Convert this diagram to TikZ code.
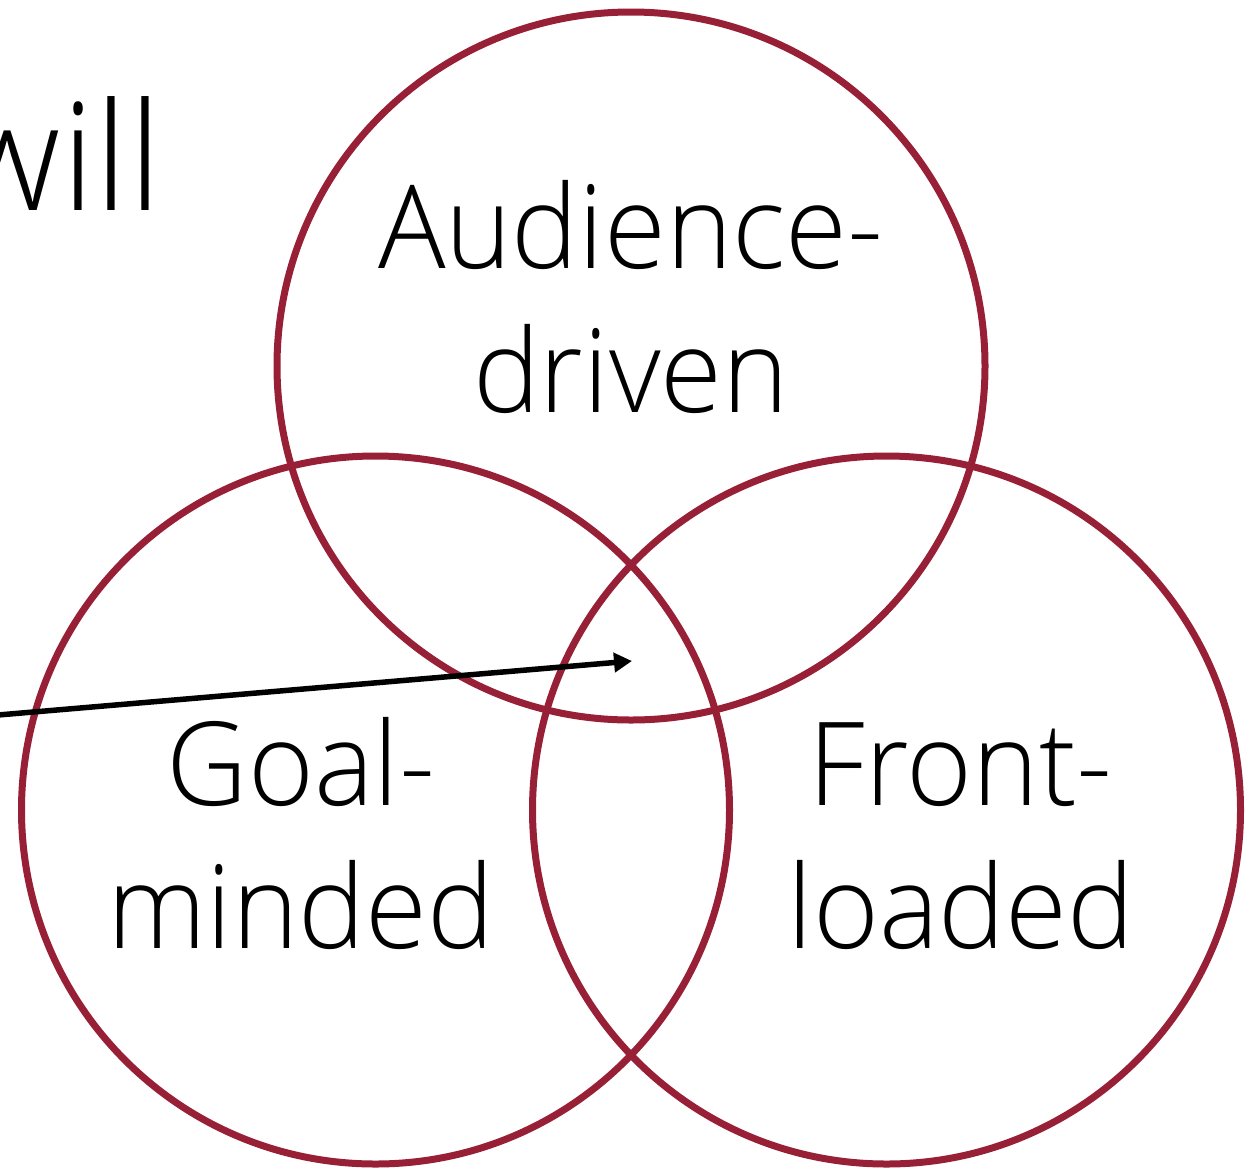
\documentclass[tikz,border=0pt]{standalone}
\usepackage{fontspec}
\setmainfont{Open Sans}[UprightFont=* Light]
\usetikzlibrary{arrows.meta}
\definecolor{ring}{RGB}{152,32,54}
\newcommand{\sq}[1]{\scalebox{0.97}[1]{#1}}
\begin{document}
\begin{tikzpicture}[x=1pt,y=-1pt,
  ringstyle/.style={draw=ring, line width=7pt, circle, minimum size=708pt, inner sep=0pt},
  lbl/.style={anchor=base, inner sep=0pt, font=\fontsize{116}{140}\selectfont},
  pointer/.style={line width=5.5pt, -{Triangle[length=18pt,width=19pt]}}]
\useasboundingbox (0,0) rectangle (1258,1168);
\node[ringstyle] (top) at (631,366) {};
\node[ringstyle] (left) at (375.5,810) {};
\node[ringstyle] (right) at (886.5,810) {};
\node[lbl] (a1) at (631,268) {\sq{Audience-}};
\node[lbl] (a2) at (631,412) {\sq{driven}};
\node[lbl] (g1) at (301,805) {\sq{Goal-}};
\node[lbl] (g2) at (301,948) {\sq{minded}};
\node[lbl] (f1) at (961,805) {\sq{Front-}};
\node[lbl] (f2) at (961,948) {\sq{loaded}};
\node[anchor=base east, inner sep=0pt, font=\fontsize{150}{180}\selectfont] (will) at (163,210) {will};
\coordinate (start) at (-2,715);
\coordinate (tip) at (632,661);
\draw[pointer] (start) -- (tip);
\end{tikzpicture}
\end{document}
